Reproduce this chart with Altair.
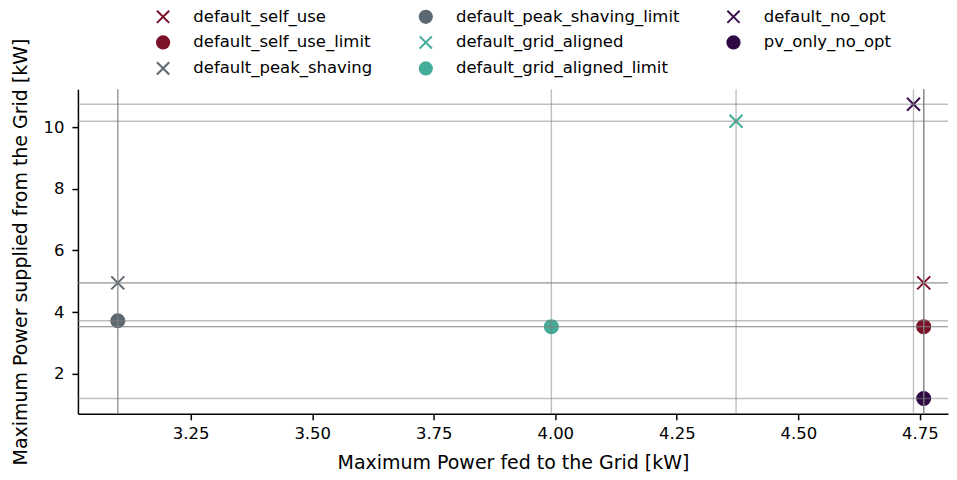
import altair as alt
import pandas as pd

names = ["default_self_use", "default_self_use_limit", "default_peak_shaving",
         "default_peak_shaving_limit", "default_grid_aligned", "default_grid_aligned_limit",
         "default_no_opt", "pv_only_no_opt"]
feed_in = [4.758, 4.758, 3.100, 3.100, 4.372, 3.992, 4.737, 4.758]
supply = [4.95, 3.53, 4.95, 3.72, 10.19, 3.53, 10.74, 1.20]
colors = ["#7b1128", "#7b1128", "#5c6872", "#5c6872", "#44ad99", "#44ad99", "#3d1150", "#2e0944"]
XPATH = "M-1,-1L1,1M-1,1L1,-1"
shapes = [XPATH, "circle", XPATH, "circle", XPATH, "circle", XPATH, "circle"]

df = pd.DataFrame({"name": names, "x": feed_in, "y": supply})

FONT = "DejaVu Sans"
xscale = alt.Scale(domain=[3.018, 4.808], nice=False, zero=False)
yscale = alt.Scale(domain=[0.704, 11.23], nice=False, zero=False)

fill_scale = alt.Scale(domain=names, range=colors)
shape_scale = alt.Scale(domain=names, range=shapes)

legend = alt.Legend(title=None, orient="none", legendX=77, legendY=-81, columns=3,
                    direction="vertical",
                    columnPadding=43, rowPadding=5, labelFontSize=16.5, labelFont=FONT,
                    labelColor="black", labelLimit=400, symbolSize=150, symbolStrokeWidth=2,
                    labelOffset=22, symbolOffset=0)

points = alt.Chart(df).mark_point(size=170, strokeWidth=2, opacity=1).encode(
    x=alt.X("x:Q", scale=xscale,
            axis=alt.Axis(title="Maximum Power fed to the Grid [kW]",
                          values=[3.25, 3.5, 3.75, 4.0, 4.25, 4.5, 4.75], format=".2f")),
    y=alt.Y("y:Q", scale=yscale,
            axis=alt.Axis(title="Maximum Power supplied from the Grid [kW]",
                          values=[2, 4, 6, 8, 10], format="d")),
    fill=alt.Fill("name:N", scale=fill_scale, legend=legend),
    stroke=alt.Stroke("name:N", scale=fill_scale, legend=legend),
    shape=alt.Shape("name:N", scale=shape_scale, legend=legend),
)

vrules = alt.Chart(df).mark_rule(color="#808080", opacity=0.5, strokeWidth=1.4).encode(
    x=alt.X("x:Q", scale=xscale))
hrules = alt.Chart(df).mark_rule(color="#808080", opacity=0.5, strokeWidth=1.4).encode(
    y=alt.Y("y:Q", scale=yscale))

chart = alt.layer(points, vrules, hrules).properties(
    width=871, height=325, padding={"left": 3, "top": 0, "right": 0, "bottom": 0}
).configure_view(stroke=None).configure_axis(
    grid=False, domainColor="black", domainWidth=1.5, tickColor="black", tickWidth=1.5,
    tickSize=6, labelFontSize=16.5, labelFont=FONT, labelColor="black",
    titleFontSize=19, titleFont=FONT, titleFontWeight="normal", titleColor="black"
).configure_axisY(titlePadding=12.5, labelPadding=8).configure_axisX(titlePadding=11, labelPadding=6)

chart.save("out.html", embed_options={"renderer": "svg", "actions": False})
